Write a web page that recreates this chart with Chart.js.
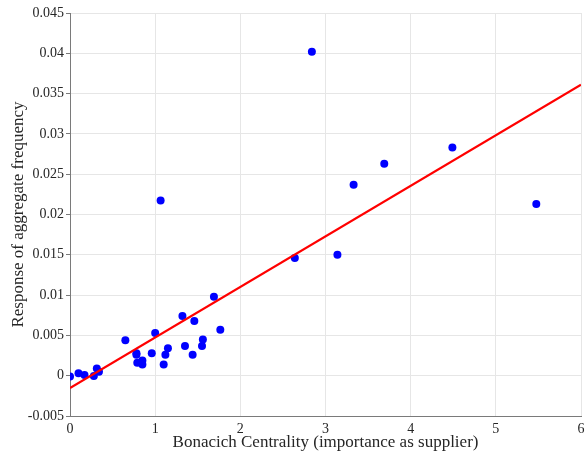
<!DOCTYPE html>
<html>
<head>
<meta charset="utf-8">
<script src="https://cdn.jsdelivr.net/npm/chart.js@4/dist/chart.umd.min.js"></script>
<style>
  html, body { margin: 0; padding: 0; background: #ffffff; }
  #wrap { width: 585px; height: 455px; }
</style>
</head>
<body>
<div id="wrap"><canvas id="c" width="585" height="455"></canvas></div>
<script>
// Scatter data: Bonacich centrality (x) vs response of aggregate frequency (y)
const centrality = [0.00, 0.10, 0.17, 0.28, 0.315, 0.34, 0.65, 0.78, 0.78, 0.79, 0.85, 0.85,
                    0.96, 1.00, 1.064, 1.10, 1.12, 1.15, 1.32, 1.35, 1.44, 1.46, 1.55, 1.56,
                    1.69, 1.765, 2.64, 2.84, 3.14, 3.33, 3.69, 4.49, 5.475];
const response   = [-0.0001, 0.0003, 0.0001, -0.00005, 0.0009, 0.0005, 0.0044, 0.0028, 0.0026, 0.0016, 0.0019, 0.0014,
                    0.0028, 0.0053, 0.02175, 0.0014, 0.0026, 0.0034, 0.0074, 0.0037, 0.0026, 0.0068, 0.0037, 0.0045,
                    0.0098, 0.0057, 0.0146, 0.0402, 0.0150, 0.0237, 0.0263, 0.0283, 0.0213];
// Fitted line endpoints
const fitX = [0, 6];
const fitY = [-0.00153, 0.0361];
// Axis ticks
const xTicks = [0, 1, 2, 3, 4, 5, 6];
const yTicks = [-0.005, 0, 0.005, 0.01, 0.015, 0.02, 0.025, 0.03, 0.035, 0.04, 0.045];

const scatterData = centrality.map((x, i) => ({ x: x, y: response[i] }));
const fitData = fitX.map((x, i) => ({ x: x, y: fitY[i] }));

const serif = "'Liberation Serif', 'DejaVu Serif', serif";

new Chart(document.getElementById('c'), {
  type: 'scatter',
  data: {
    datasets: [
      {
        type: 'line',
        data: fitData,
        borderColor: '#ff0000',
        borderWidth: 2.2,
        pointRadius: 0,
        fill: false,
        order: 0
      },
      {
        type: 'scatter',
        data: scatterData,
        backgroundColor: '#0000ff',
        borderColor: '#0000ff',
        pointRadius: 4,
        borderWidth: 0,
        order: 1
      }
    ]
  },
  options: {
    responsive: false,
    animation: false,
    devicePixelRatio: 1,
    layout: { padding: { top: 13, right: 4, bottom: 0, left: 0 } },
    plugins: { legend: { display: false }, tooltip: { enabled: false } },
    scales: {
      x: {
        type: 'linear',
        min: 0, max: 6,
        afterBuildTicks: (s) => { s.ticks = xTicks.map(v => ({ value: v })); },
        afterFit: (s) => { s.height = 39; s.paddingLeft = 0; s.paddingRight = 0; },
        grid: { color: '#e6e6e6', lineWidth: 1, drawTicks: false },
        border: { display: true, color: '#7a7a7a', width: 1 },
        ticks: {
          color: '#262626',
          padding: 5,
          maxRotation: 0,
          font: { family: serif, size: 14 },
          callback: (v) => String(v)
        },
        title: {
          display: true,
          text: 'Bonacich Centrality (importance as supplier)',
          color: '#262626',
          font: { family: serif, size: 17 },
          padding: { top: 0, bottom: 2 }
        }
      },
      y: {
        type: 'linear',
        min: -0.005, max: 0.045,
        afterBuildTicks: (s) => { s.ticks = yTicks.map(v => ({ value: v })); },
        afterFit: (s) => { s.width = 70; s.paddingTop = 0; s.paddingBottom = 0; },
        grid: { color: '#e6e6e6', lineWidth: 1, drawTicks: true, tickLength: 4, tickColor: '#7a7a7a' },
        border: { display: true, color: '#7a7a7a', width: 1 },
        ticks: {
          color: '#262626',
          padding: 2,
          font: { family: serif, size: 14 },
          callback: (v) => String(parseFloat(v.toFixed(4)))
        },
        title: {
          display: true,
          text: 'Response of aggregate frequency',
          color: '#262626',
          font: { family: serif, size: 17 },
          padding: { top: 8, bottom: 2 }
        }
      }
    }
  }
});
</script>
</body>
</html>
